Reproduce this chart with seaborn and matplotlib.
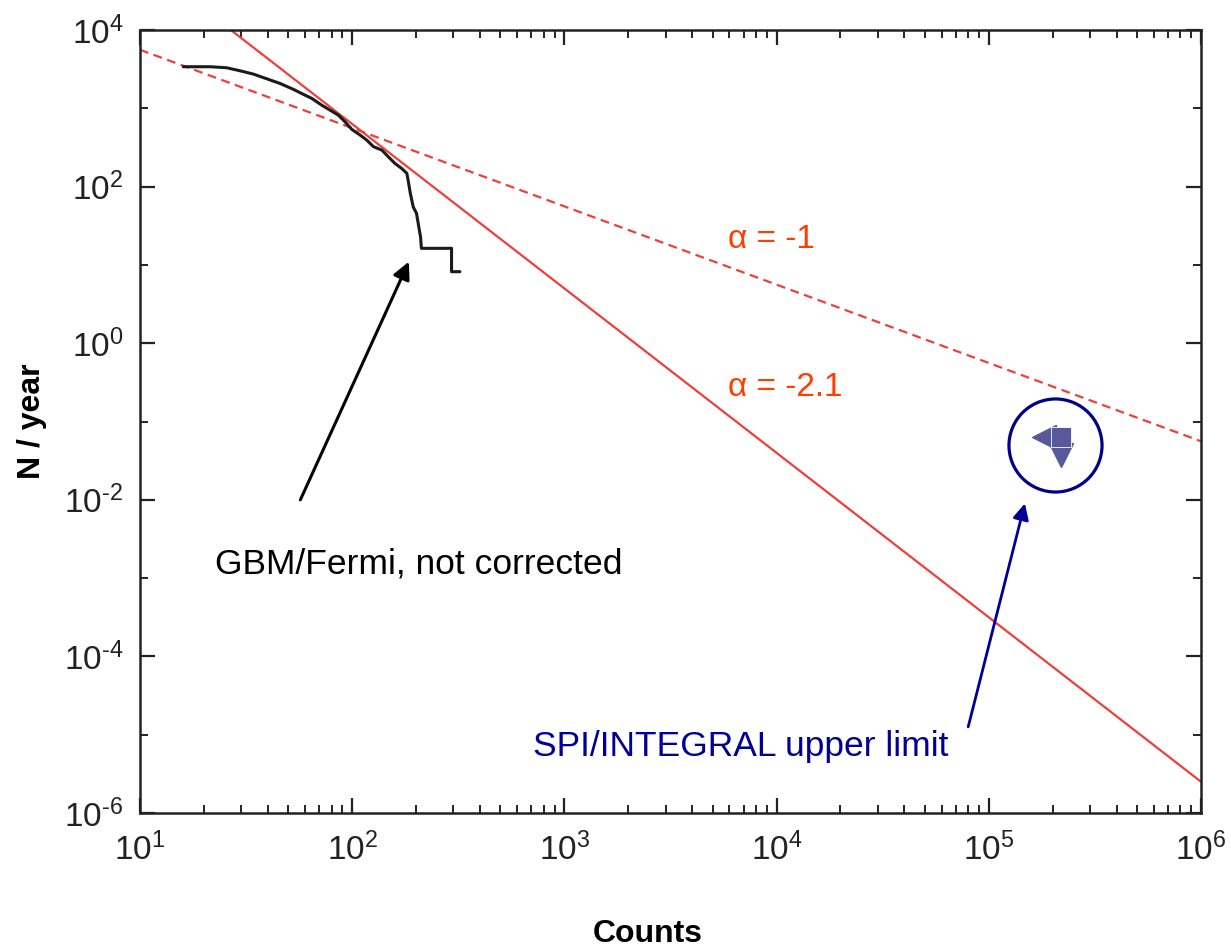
import numpy as np
import pandas as pd
import matplotlib
matplotlib.use("Agg")
import matplotlib.pyplot as plt
from matplotlib.ticker import LogLocator, FixedLocator, FuncFormatter, NullFormatter
from matplotlib.transforms import offset_copy
import seaborn as sns

# GBM/Fermi cumulative rate (counts vs N per year), not corrected
gbm_counts = [16.0, 18.5, 21.4, 25.6, 29.6, 34.2, 39.5, 45.7, 52.8, 58.9, 64.5,
              71.8, 78.6, 86.0, 92.5, 99.5, 109, 117, 126, 138, 148, 159, 171,
              181, 184, 188, 194, 201, 206, 210, 212, 294, 294, 322]
gbm_rate = [3400, 3400, 3400, 3300, 3020, 2740, 2390, 2080, 1750, 1510, 1340,
            1100, 950, 820, 675, 540, 456, 394, 324, 293, 241, 198, 171,
            148, 116, 82, 55, 45.6, 30.8, 22.9, 16.3, 16.3, 8.2, 8.2]

# Power-law models N = A * counts^alpha
alpha_steep, amp_steep = -2.1, 1.0e7
alpha_flat, amp_flat = -1.0, 5.6e4
model_range = [10, 1e6]

# SPI/INTEGRAL upper limit
spi_x, spi_y = 2.2e5, 0.063
spi_ring_x, spi_ring_y = 2.05e5, 0.05

# axis decades
x_decades = [1, 2, 3, 4, 5, 6]
y_decades_labeled = [-6, -4, -2, 0, 2, 4]
y_decades_minor = [-5, -3, -1, 1, 3]

sns.set_theme(style="ticks")
plt.rcParams["font.family"] = ["Liberation Sans", "DejaVu Sans"]
plt.rcParams["mathtext.fontset"] = "custom"
plt.rcParams["mathtext.rm"] = "Liberation Sans"
plt.rcParams["mathtext.it"] = "Liberation Sans:italic"
plt.rcParams["mathtext.bf"] = "Liberation Sans:bold"
plt.rcParams["axes.unicode_minus"] = False

fig = plt.figure(figsize=(12.31, 9.51), dpi=100)
ax = fig.add_axes([0.1137, 0.1451, 0.8619, 0.8233])

xs = np.logspace(np.log10(model_range[0]), np.log10(model_range[1]), 200)
models = pd.DataFrame({
    "counts": np.concatenate([xs, xs]),
    "rate": np.concatenate([amp_steep * xs ** alpha_steep, amp_flat * xs ** alpha_flat]),
    "model": ["steep"] * len(xs) + ["flat"] * len(xs),
})
line_red = "#EE3F38"
sns.lineplot(data=models[models.model == "steep"], x="counts", y="rate",
             color=line_red, lw=1.6, ax=ax, estimator=None, sort=False)
sns.lineplot(data=models[models.model == "flat"], x="counts", y="rate",
             color=line_red, lw=1.6, ax=ax, estimator=None, sort=False,
             dashes=False, linestyle=(0, (4, 2.5)))

gbm = pd.DataFrame({"counts": gbm_counts, "rate": gbm_rate})
sns.lineplot(data=gbm, x="counts", y="rate", color="#1a1a1a", lw=2.2,
             ax=ax, estimator=None, sort=False)

# upper-limit symbol: box with arrows to the left and downward
spi_color = "#58589C"
ax.plot(spi_x, spi_y, marker="<", ms=17, color=spi_color, ls="none",
        transform=offset_copy(ax.transData, fig=fig, x=-17, y=0, units="dots"))
ax.plot(spi_x, spi_y, marker="v", ms=17, color=spi_color, ls="none",
        transform=offset_copy(ax.transData, fig=fig, x=0, y=-18, units="dots"))
ax.plot(spi_x, spi_y, marker="s", ms=14, color=spi_color, mec="white", mew=0.6, ls="none")
ax.plot(spi_ring_x, spi_ring_y, marker="o", ms=67, mfc="none", mec="#00008B", mew=2.3, ls="none")

ax.set_xscale("log")
ax.set_yscale("log")
ax.set_xlim(model_range[0], model_range[1])
ax.set_ylim(10.0 ** y_decades_labeled[0], 10.0 ** y_decades_labeled[-1])


def decade_label(v, pos):
    e = int(round(np.log10(v)))
    if e < 0:
        return r"$\mathdefault{10^{\text{-}%d}}$" % (-e)
    return r"$\mathdefault{10^{%d}}$" % e


x_minor = [m * 10.0 ** d for d in x_decades[:-1] for m in range(2, 10)]
ax.xaxis.set_major_locator(FixedLocator([10.0 ** d for d in x_decades]))
ax.xaxis.set_minor_locator(FixedLocator(x_minor))
ax.xaxis.set_major_formatter(FuncFormatter(decade_label))
ax.xaxis.set_minor_formatter(NullFormatter())
ax.yaxis.set_major_locator(FixedLocator([10.0 ** d for d in y_decades_labeled]))
ax.yaxis.set_minor_locator(FixedLocator([10.0 ** d for d in y_decades_minor]))
ax.yaxis.set_major_formatter(FuncFormatter(decade_label))
ax.yaxis.set_minor_formatter(NullFormatter())

for s in ax.spines.values():
    s.set_linewidth(1.8)
    s.set_color("#222222")
ax.tick_params(which="both", direction="in", top=True, right=True, color="#222222")
ax.tick_params(which="major", length=11, width=1.6, labelsize=24, colors="#222222")
ax.tick_params(which="minor", length=5.5, width=1.4)
ax.tick_params(axis="x", which="major", pad=14)
ax.tick_params(axis="y", which="major", pad=12)

ax.set_xlabel("Counts", fontsize=23, fontweight="bold", color="black")
ax.set_ylabel("N / year", fontsize=23, fontweight="bold", color="black")
ax.xaxis.set_label_coords(0.479, -0.136)
ax.yaxis.set_label_coords(-0.088, 0.5)

alpha_color = "#FF3D00"
ax.text(5900, 21, "α = -1", fontsize=24, color=alpha_color, ha="left", va="center")
ax.text(5900, 0.275, "α = -2.1", fontsize=24, color=alpha_color, ha="left", va="center")

ax.text(22.5, 1.5e-3, "GBM/Fermi, not corrected", fontsize=25.5, color="black",
        ha="left", va="center")
ax.annotate("", xy=(185, 11), xytext=(57, 1e-2),
            arrowprops=dict(arrowstyle="-|>", lw=2.2, color="black", mutation_scale=26,
                            shrinkA=0, shrinkB=0))

ax.text(711, 7e-6, "SPI/INTEGRAL upper limit", fontsize=25.5, color="#000099",
        ha="left", va="center")
ax.annotate("", xy=(1.48e5, 9e-3), xytext=(8.0e4, 1.26e-5),
            arrowprops=dict(arrowstyle="-|>", lw=2.0, color="#000099", mutation_scale=24,
                            shrinkA=0, shrinkB=0))

fig.savefig("out.png", dpi=100, facecolor="white")
